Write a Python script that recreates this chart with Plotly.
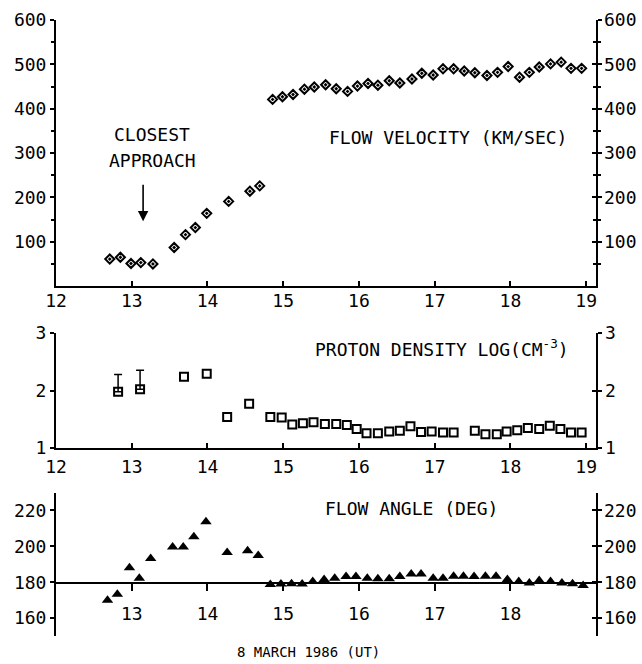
import plotly.graph_objects as go

# ---------------- data ----------------
vel_hr = [12.71, 12.85, 12.99, 13.12, 13.28, 13.56, 13.71, 13.84, 13.99, 14.28, 14.56, 14.69,
          14.86, 14.99, 15.13, 15.28, 15.41, 15.56, 15.70, 15.85, 15.98, 16.12, 16.25, 16.40,
          16.54, 16.70, 16.83, 16.98, 17.11, 17.25, 17.39, 17.53, 17.69, 17.83, 17.97, 18.12,
          18.25, 18.38, 18.53, 18.67, 18.80, 18.94]
vel_kms = [61, 65, 51, 53, 50, 87, 116, 132, 164, 191, 214, 226,
           421, 427, 432, 444, 449, 454, 445, 439, 451, 457, 453, 463,
           458, 467, 480, 476, 490, 490, 485, 481, 475, 482, 495, 471,
           482, 494, 501, 505, 491, 491]

den_hr = [12.82, 13.11, 13.69, 13.99, 14.26, 14.55, 14.83, 14.98, 15.12, 15.26, 15.40, 15.55,
          15.70, 15.84, 15.97, 16.10, 16.25, 16.40, 16.54, 16.68, 16.82, 16.96, 17.11, 17.25,
          17.53, 17.67, 17.82, 17.95, 18.09, 18.23, 18.38, 18.52, 18.66, 18.80, 18.94]
den_log = [1.98, 2.02, 2.24, 2.29, 1.54, 1.77, 1.54, 1.53, 1.41, 1.43, 1.45, 1.42,
           1.42, 1.40, 1.33, 1.26, 1.26, 1.29, 1.30, 1.38, 1.28, 1.29, 1.27, 1.27,
           1.30, 1.24, 1.24, 1.29, 1.31, 1.35, 1.33, 1.39, 1.33, 1.27, 1.27]
err_hr = [12.82, 13.11]
err_log = [1.98, 2.02]
err_plus = [0.30, 0.33]

ang_hr = [12.68, 12.81, 12.97, 13.10, 13.25, 13.54, 13.68, 13.82, 13.98, 14.26, 14.53, 14.67,
          14.83, 14.97, 15.11, 15.25, 15.39, 15.54, 15.68, 15.83, 15.96, 16.11, 16.25, 16.40,
          16.54, 16.69, 16.82, 16.98, 17.11, 17.25, 17.38, 17.52, 17.67, 17.81, 17.96, 18.11,
          18.25, 18.38, 18.53, 18.68, 18.82, 18.96]
ang_deg = [170.0, 173.3, 188.0, 182.2, 193.2, 199.7, 199.7, 205.3, 213.7, 196.6, 197.5, 194.9,
           178.7, 179.0, 179.2, 179.0, 180.4, 181.5, 182.2, 183.2, 183.2, 182.2, 181.9, 181.9,
           183.2, 184.6, 184.6, 182.2, 182.2, 183.3, 183.3, 183.2, 183.3, 183.3, 181.5, 180.4,
           179.6, 180.9, 180.4, 179.6, 179.1, 178.2]

hour_ticks = [12, 13, 14, 15, 16, 17, 18, 19]
ang_hour_ticks = [13, 14, 15, 16, 17, 18]
vel_ticks = [100, 200, 300, 400, 500, 600]
vel_minor = [50, 150, 250, 350, 450, 550]
den_ticks = [1, 2, 3]
ang_ticks = [160, 180, 200, 220]

# ---------------- layout helpers ----------------
FONT = "DejaVu Sans Mono"
X_RANGE = [12, 19.13]
VEL_RANGE = [0, 600]
DEN_RANGE = [1, 3]
ANG_RANGE = [150, 229.7]
ANG_BASE = 180
DOM_TOP = [0.568, 1.0]
DOM_MID = [0.305, 0.492]
DOM_BOT = [0.0, 0.232]
base_pos = DOM_BOT[0] + (ANG_BASE - ANG_RANGE[0]) / (ANG_RANGE[1] - ANG_RANGE[0]) * (DOM_BOT[1] - DOM_BOT[0])

tickfont = dict(family=FONT, size=18, color="black")
common = dict(showgrid=False, zeroline=False, linecolor="black", linewidth=2,
              tickcolor="black", tickwidth=1.5, tickfont=tickfont, automargin=False)

fig = go.Figure()

fig.add_trace(go.Scatter(x=vel_hr, y=vel_kms, mode="markers", xaxis="x", yaxis="y",
                         marker=dict(symbol="diamond-open-dot", size=7, color="black",
                                     line=dict(width=2, color="black")),
                         showlegend=False))
fig.add_trace(go.Scatter(x=err_hr, y=err_log, mode="markers", xaxis="x2", yaxis="y3",
                         marker=dict(size=2, color="rgba(0,0,0,0)"),
                         error_y=dict(type="data", symmetric=False, array=err_plus,
                                      arrayminus=[0] * len(err_plus), width=4,
                                      thickness=1.5, color="black"),
                         showlegend=False))
fig.add_trace(go.Scatter(x=den_hr, y=den_log, mode="markers", xaxis="x2", yaxis="y3",
                         marker=dict(symbol="square-open", size=8, color="black",
                                     line=dict(width=2, color="black")),
                         showlegend=False))
fig.add_trace(go.Scatter(x=ang_hr, y=ang_deg, mode="markers", xaxis="x3", yaxis="y5",
                         marker=dict(symbol="triangle-up", size=10, color="black"),
                         showlegend=False))
# empty traces so that the label-only axes (right scales, 180-degree baseline) are drawn
for xa, ya in [("x", "y2"), ("x2", "y4"), ("x3", "y6"), ("x4", "y7")]:
    fig.add_trace(go.Scatter(x=[], y=[], mode="markers", xaxis=xa, yaxis=ya,
                             showlegend=False, hoverinfo="skip"))

right_common = dict(common)
right_common["ticklabeloverflow"] = "allow"

fig.update_layout(
    width=642, height=664,
    margin=dict(l=56, r=46, t=20, b=28),
    paper_bgcolor="white", plot_bgcolor="rgba(0,0,0,0)",
    font=dict(family=FONT, size=18, color="black"),
    # top panel
    xaxis=dict(domain=[0, 1], anchor="y", range=X_RANGE, tickvals=hour_ticks,
               ticks="inside", ticklen=5, showline=True, ticklabelstandoff=-3, **common),
    yaxis=dict(domain=DOM_TOP, anchor="x", range=VEL_RANGE, tickvals=vel_ticks,
               ticks="outside", ticklen=4, showline=True, mirror="ticks",
               minor=dict(tickvals=vel_minor, ticks="outside", ticklen=3, tickcolor="black"),
               **common),
    yaxis2=dict(overlaying="y", side="right", anchor="x", range=VEL_RANGE, tickvals=vel_ticks,
                ticks="inside", ticklen=4, showline=False, showticklabels=True,
                ticklabelstandoff=7,
                minor=dict(tickvals=vel_minor, ticks="inside", ticklen=3, tickcolor="black"),
                **right_common),
    # middle panel
    xaxis2=dict(domain=[0, 1], anchor="y3", range=X_RANGE, tickvals=hour_ticks,
                ticks="inside", ticklen=5, showline=True, ticklabelstandoff=1, **common),
    yaxis3=dict(domain=DOM_MID, anchor="x2", range=DEN_RANGE, tickvals=den_ticks,
                ticks="outside", ticklen=4, showline=True, mirror="ticks", **common),
    yaxis4=dict(overlaying="y3", side="right", anchor="x2", range=DEN_RANGE, tickvals=den_ticks,
                ticks="inside", ticklen=4, showline=False, showticklabels=True,
                ticklabelstandoff=8, **right_common),
    # bottom panel
    xaxis3=dict(domain=[0, 1], anchor="y5", range=X_RANGE, showline=False,
                showticklabels=False, ticks="", showgrid=False, zeroline=False,
                automargin=False),
    yaxis5=dict(domain=DOM_BOT, anchor="x3", range=ANG_RANGE, tickvals=ang_ticks,
                ticks="outside", ticklen=4, showline=True, mirror="ticks", **common),
    yaxis6=dict(overlaying="y5", side="right", anchor="x3", range=ANG_RANGE, tickvals=ang_ticks,
                ticks="inside", ticklen=4, showline=False, showticklabels=True,
                ticklabelstandoff=7, **right_common),
    # 180-degree baseline with hour ticks
    xaxis4=dict(domain=[0, 1], anchor="y7", range=X_RANGE, tickvals=ang_hour_ticks,
                ticks="outside", ticklen=7, showline=True, ticklabelstandoff=7, **common),
    xaxis5=dict(overlaying="x4", anchor="y7", range=X_RANGE, tickvals=ang_hour_ticks,
                ticks="inside", ticklen=7, showline=False, showticklabels=False, **common),
    yaxis7=dict(domain=[base_pos, DOM_BOT[1]], anchor="x4", range=[0, 1], visible=False,
                automargin=False),
)

lab = dict(family=FONT, size=18, color="black")
annotations = [
    dict(text="CLOSEST", x=13.27, y=341, xref="x", yref="y", showarrow=False, font=lab),
    dict(text="APPROACH", x=13.27, y=284, xref="x", yref="y", showarrow=False, font=lab),
    dict(text="", x=13.15, y=146, ax=13.15, ay=232, xref="x", yref="y", axref="x", ayref="y",
         showarrow=True, arrowhead=2, arrowsize=1.3, arrowwidth=1.6, arrowcolor="black"),
    dict(text="FLOW VELOCITY (KM/SEC)", x=17.18, y=336, xref="x", yref="y",
         showarrow=False, font=lab),
    dict(text="PROTON DENSITY LOG(CM<sup>-3</sup>)", x=17.09, y=2.74, xref="x2", yref="y3",
         showarrow=False, font=lab),
    dict(text="FLOW ANGLE (DEG)", x=16.69, y=221.3, xref="x3", yref="y5",
         showarrow=False, font=lab),
    dict(text="8 MARCH 1986 (UT)", x=0.467, y=-0.026, xref="paper", yref="paper",
         showarrow=False, font=dict(family=FONT, size=14, color="black"), yanchor="middle"),
]
fig.update_layout(annotations=annotations)

fig.write_html("out.html", config={"displayModeBar": False},
               post_script="document.body.style.margin='0px';document.body.style.overflow='hidden';")
